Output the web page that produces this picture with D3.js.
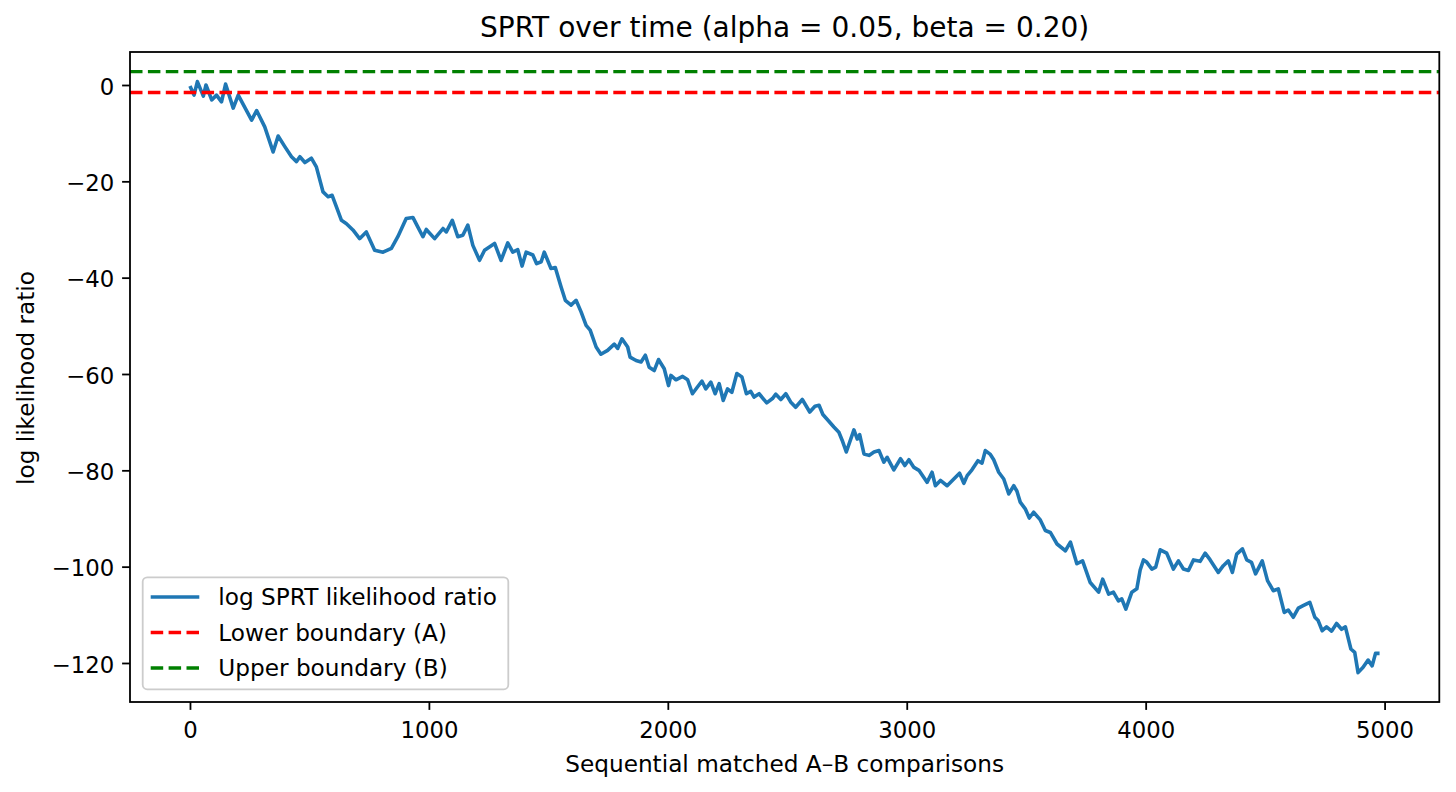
<!DOCTYPE html>
<html>
<head>
<meta charset="utf-8">
<script src="https://cdn.jsdelivr.net/npm/d3@7"></script>
<style>
  html, body { margin: 0; padding: 0; background: #ffffff; }
  svg { display: block; font-family: "DejaVu Sans", sans-serif; }
</style>
</head>
<body>
<svg id="chart" width="1456" height="792"></svg>
<script>
// ---- data ----
const steps = [0,17,31,56,67,91,111,132,149,181,202,258,279,313,348,369,397,425,446,460,481,508,529,557,578,595,613,634,655,682,710,738,773,808,843,870,905,933,954,975,989,1024,1059,1073,1098,1121,1142,1163,1184,1212,1233,1275,1302,1330,1351,1372,1390,1407,1435,1451,1470,1483,1511,1529,1553,1571,1595,1616,1637,1658,1675,1700,1720,1748,1776,1790,1808,1832,1842,1867,1888,1906,1922,1943,1961,1985,2003,2013,2034,2062,2083,2103,2124,2143,2159,2180,2198,2215,2232,2250,2268,2289,2310,2329,2347,2361,2382,2414,2438,2452,2473,2494,2514,2535,2563,2594,2616,2633,2649,2674,2695,2716,2730,2747,2779,2793,2803,2821,2842,2863,2884,2904,2918,2946,2974,2992,3009,3030,3051,3085,3106,3120,3141,3169,3197,3221,3239,3253,3273,3298,3315,3329,3350,3364,3385,3406,3427,3448,3461,3475,3496,3513,3531,3559,3580,3601,3629,3664,3685,3712,3736,3768,3803,3820,3845,3865,3886,3900,3917,3942,3963,3977,3991,4005,4026,4042,4061,4088,4116,4137,4158,4179,4200,4228,4249,4270,4304,4325,4346,4363,4381,4405,4423,4443,4460,4488,4510,4534,4555,4580,4597,4618,4639,4659,4687,4708,4722,4739,4757,4778,4799,4820,4836,4859,4875,4889,4910,4931,4948,4962,4979];
const logLR = [-0.2,-2.1,0.7,-2.3,0.0,-3.1,-2.1,-3.5,0.2,-4.8,-2.1,-7.3,-5.3,-8.7,-13.9,-10.6,-12.8,-14.9,-15.9,-14.9,-16.1,-15.2,-17,-22.2,-23.2,-22.9,-25.3,-28.1,-28.8,-30.1,-31.9,-30.5,-34.3,-34.7,-33.9,-31.5,-27.7,-27.5,-29.5,-31.5,-30,-31.9,-29.8,-30.5,-28.1,-31.5,-31.2,-29.1,-33.3,-36.4,-34.3,-32.9,-36.4,-32.8,-34.7,-34.2,-37.6,-34.7,-35.3,-37.1,-36.7,-34.7,-38.1,-37.9,-41.9,-44.7,-45.7,-44.7,-47.1,-49.9,-50.9,-54.4,-55.9,-55.1,-53.8,-54.7,-52.7,-54.4,-56.5,-57.2,-57.5,-56.1,-58.6,-59.3,-57,-58.9,-62.4,-60.3,-61.2,-60.5,-61.2,-64.1,-62.7,-61.5,-63.1,-61.7,-64.1,-62,-65.5,-63.1,-63.8,-59.9,-60.6,-64.1,-63.6,-64.8,-64.1,-66,-65.1,-64.2,-65.3,-64.1,-65.8,-66.9,-65.3,-67.9,-66.7,-66.5,-68.4,-69.8,-71,-72.1,-73.8,-76.2,-71.6,-73.5,-72.6,-76.6,-76.9,-76.2,-75.9,-78.3,-77.3,-79.9,-77.6,-79,-77.8,-79.4,-80,-82.5,-80.4,-83.2,-82.1,-83.2,-81.8,-80.6,-82.7,-81.1,-79.9,-78,-78.5,-75.9,-76.7,-77.8,-80.4,-81.8,-84.9,-83.2,-84.3,-86.6,-88,-89.9,-88.7,-90.3,-92.5,-92.9,-95.3,-96.7,-94.9,-99.4,-98.8,-103.3,-105.3,-102.6,-105.7,-105.3,-107.1,-106.7,-108.8,-105.3,-104.6,-100.7,-98.6,-99.1,-100.5,-100.1,-96.5,-97.2,-100.5,-98.8,-100.5,-100.8,-98.6,-98.9,-97.2,-98.6,-101.2,-99.8,-98.8,-101.2,-97.4,-96.3,-98.6,-99.1,-101.5,-98.8,-102.9,-105,-104.6,-109.5,-109,-110.5,-108.6,-108.1,-107.4,-110.5,-111.2,-113.3,-112.5,-113.4,-111.8,-113,-112.5,-117.1,-117.8,-122,-120.9,-119.4,-120.6,-118,-118];
const lowerBoundary = -1.56;   // A
const upperBoundary = 2.77;    // B
const xTicks = [0, 1000, 2000, 3000, 4000, 5000];
const yTicks = [0, -20, -40, -60, -80, -100, -120];
const legendLabels = ["log SPRT likelihood ratio", "Lower boundary (A)", "Upper boundary (B)"];
const titleText = "SPRT over time (alpha = 0.05, beta = 0.20)";
const xLabelText = "Sequential matched A\u2013B comparisons";
const yLabelText = "log likelihood ratio";

// ---- layout ----
const svg = d3.select("#chart");
const plot = { left: 130, right: 1439.3, top: 52, bottom: 702 };
const FS = 23.2;
const TFS = 22.8;
const tickLen = 7.9;
const colors = { line: "#1f77b4", lower: "#ff0000", upper: "#008000" };
const dash = "12.5,5.4";

const x = d3.scaleLinear().domain([-251, 5229]).range([plot.left, plot.right]);
const y = d3.scaleLinear().domain([-128.1, 6.85]).range([plot.bottom, plot.top]);

const data = steps.map((s, i) => ({ s, v: logLR[i] }));

// clip
svg.append("defs").append("clipPath").attr("id", "clip")
  .append("rect").attr("x", plot.left).attr("y", plot.top)
  .attr("width", plot.right - plot.left).attr("height", plot.bottom - plot.top);

const g = svg.append("g").attr("clip-path", "url(#clip)");

// main line
g.append("path").datum(data)
  .attr("fill", "none").attr("stroke", colors.line).attr("stroke-width", 3.6)
  .attr("stroke-linejoin", "round").attr("stroke-linecap", "butt")
  .attr("d", d3.line().x(d => x(d.s)).y(d => y(d.v)));

// boundaries (full-width horizontal lines)
[[lowerBoundary, colors.lower], [upperBoundary, colors.upper]].forEach(([v, c]) => {
  g.append("line")
    .attr("x1", plot.left).attr("x2", plot.right)
    .attr("y1", y(v)).attr("y2", y(v))
    .attr("stroke", c).attr("stroke-width", 3.4).attr("stroke-dasharray", dash);
});

// axes
const xAxis = d3.axisBottom(x).tickValues(xTicks).tickFormat(d3.format("d"))
  .tickSize(tickLen).tickSizeOuter(0).tickPadding(12);
const gx = svg.append("g").attr("transform", `translate(0,${plot.bottom})`).call(xAxis);
const yAxis = d3.axisLeft(y).tickValues(yTicks).tickFormat(d3.format("d"))
  .tickSize(tickLen).tickSizeOuter(0).tickPadding(7.9);
const gy = svg.append("g").attr("transform", `translate(${plot.left},0)`).call(yAxis);

[gx, gy].forEach(ax => {
  ax.select(".domain").remove();
  ax.selectAll(".tick line").attr("stroke", "#000").attr("stroke-width", 1.8);
  ax.selectAll(".tick text").attr("fill", "#000").style("font-size", TFS + "px")
    .style("font-family", "'DejaVu Sans', sans-serif");
});
gy.selectAll(".tick text").attr("dy", "0.4em");

// spines
svg.append("rect")
  .attr("x", plot.left).attr("y", plot.top)
  .attr("width", plot.right - plot.left).attr("height", plot.bottom - plot.top)
  .attr("fill", "none").attr("stroke", "#000").attr("stroke-width", 1.8);

// title & labels
svg.append("text").attr("x", (plot.left + plot.right) / 2).attr("y", 37)
  .attr("text-anchor", "middle").style("font-size", "28px").attr("fill", "#000")
  .text(titleText);
svg.append("text").attr("x", (plot.left + plot.right) / 2).attr("y", 771.5)
  .attr("text-anchor", "middle").style("font-size", FS + "px").attr("fill", "#000")
  .text(xLabelText);
svg.append("text").attr("transform", "translate(34,378) rotate(-90)")
  .attr("text-anchor", "middle").style("font-size", FS + "px").attr("fill", "#000")
  .text(yLabelText);

// legend
const leg = svg.append("g");
leg.append("rect").attr("x", 142.7).attr("y", 577.3).attr("width", 365.6).attr("height", 112)
  .attr("rx", 4.5).attr("ry", 4.5)
  .attr("fill", "#ffffff").attr("fill-opacity", 0.8)
  .attr("stroke", "#cccccc").attr("stroke-width", 1.8);
const legendStyles = [
  { c: colors.line, d: null },
  { c: colors.lower, d: dash },
  { c: colors.upper, d: dash }
];
const legendY = [597, 632.5, 668];
legendLabels.forEach((lab, i) => {
  const ly = legendY[i];
  const ln = leg.append("line").attr("x1", 150.7).attr("x2", 199.3)
    .attr("y1", ly).attr("y2", ly)
    .attr("stroke", legendStyles[i].c).attr("stroke-width", 3.4);
  if (legendStyles[i].d) ln.attr("stroke-dasharray", legendStyles[i].d);
  leg.append("text").attr("x", 218.3).attr("y", ly).attr("dy", "0.36em")
    .style("font-size", FS + "px").attr("fill", "#000").text(lab);
});
</script>
</body>
</html>
